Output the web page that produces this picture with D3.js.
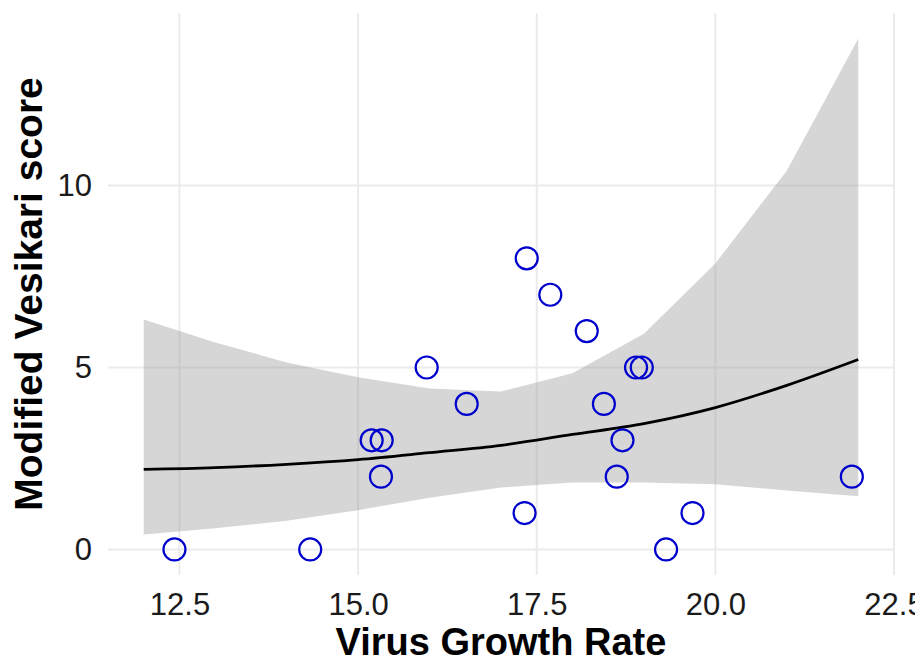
<!DOCTYPE html>
<html>
<head>
<meta charset="utf-8">
<script src="https://cdn.jsdelivr.net/npm/d3@7"></script>
<style>
  body { margin: 0; background: #fff; }
  svg { display: block; font-family: "Liberation Sans", Arial, sans-serif; }
</style>
</head>
<body>
<svg id="svg" width="915" height="662"></svg>
<script>
// observed points
var growth = [12.43, 14.33, 15.96, 16.52, 15.19, 15.33, 15.32, 17.36, 17.69, 18.20,
              18.44, 18.70, 18.62, 18.89, 18.97, 17.33, 19.31, 19.68, 21.91];
var score  = [0, 0, 5, 4, 3, 3, 2, 8, 7, 6,
              4, 3, 2, 5, 5, 1, 0, 1, 2];

// fitted smooth + confidence band
var fitX     = [12, 13, 14, 15, 16, 17, 18, 19, 20, 21, 22];
var fitY     = [2.20, 2.25, 2.34, 2.47, 2.66, 2.86, 3.16, 3.46, 3.90, 4.51, 5.22];
var fitLower = [0.41, 0.58, 0.79, 1.08, 1.42, 1.70, 1.84, 1.84, 1.79, 1.62, 1.46];
var fitUpper = [6.32, 5.69, 5.14, 4.73, 4.42, 4.34, 4.84, 5.93, 7.86, 10.41, 14.04];

var xTicks = [12.5, 15.0, 17.5, 20.0, 22.5];
var yTicks = [0, 5, 10];

var svg = d3.select("#svg");
var padL = 108, padR = 894, padT = 13, padB = 575;

var x = d3.scaleLinear().domain([11.5, 22.5]).range([padL, padR]);
var y = d3.scaleLinear().domain([-0.702, 14.742]).range([padB, padT]);

// grid
var grid = svg.append("g");
grid.selectAll("line.v").data(xTicks).enter().append("line")
  .attr("class", "v")
  .attr("x1", d => x(d)).attr("x2", d => x(d))
  .attr("y1", padT).attr("y2", padB)
  .attr("stroke", "#ebebeb").attr("stroke-width", 2);
grid.selectAll("line.h").data(yTicks).enter().append("line")
  .attr("class", "h")
  .attr("x1", padL).attr("x2", padR)
  .attr("y1", d => y(d)).attr("y2", d => y(d))
  .attr("stroke", "#ebebeb").attr("stroke-width", 2);

var band = fitX.map((d, i) => ({x: d, y: fitY[i], lo: fitLower[i], hi: fitUpper[i]}));

// ribbon
svg.append("path")
  .datum(band)
  .attr("d", d3.area().x(d => x(d.x)).y0(d => y(d.lo)).y1(d => y(d.hi)))
  .attr("fill", "#999999").attr("fill-opacity", 0.4);

// fitted line
svg.append("path")
  .datum(band)
  .attr("d", d3.line().x(d => x(d.x)).y(d => y(d.y)).curve(d3.curveMonotoneX))
  .attr("fill", "none").attr("stroke", "#000").attr("stroke-width", 2.8);

// points
svg.selectAll("circle").data(growth).enter().append("circle")
  .attr("cx", d => x(d))
  .attr("cy", (d, i) => y(score[i]))
  .attr("r", 11)
  .attr("fill", "none").attr("stroke", "#0000CD").attr("stroke-width", 2.2);

// x axis labels
var xAxis = d3.axisBottom(x).tickValues(xTicks).tickFormat(d3.format(".1f")).tickSize(0).tickPadding(0);
var gx = svg.append("g").attr("transform", "translate(0,615)").call(xAxis);
gx.select(".domain").remove();
gx.selectAll("text").attr("dy", 0).attr("y", 0)
  .attr("font-size", 31).attr("fill", "#1a1a1a").attr("font-family", "Liberation Sans, Arial, sans-serif");

// y axis labels
var yAxis = d3.axisLeft(y).tickValues(yTicks).tickSize(0).tickPadding(0);
var gy = svg.append("g").attr("transform", "translate(92,0)").call(yAxis);
gy.select(".domain").remove();
gy.selectAll("text").attr("x", 0)
  .attr("font-size", 31).attr("fill", "#1a1a1a").attr("font-family", "Liberation Sans, Arial, sans-serif");

// titles
svg.append("text")
  .attr("x", (padL + padR) / 2).attr("y", 655)
  .attr("text-anchor", "middle")
  .attr("font-size", 38).attr("font-weight", "bold").attr("fill", "#000")
  .text("Virus Growth Rate");

svg.append("text")
  .attr("transform", "translate(42," + (padT + padB) / 2 + ") rotate(-90)")
  .attr("text-anchor", "middle")
  .attr("font-size", 39).attr("font-weight", "bold").attr("fill", "#000")
  .text("Modified Vesikari score");
</script>
</body>
</html>
